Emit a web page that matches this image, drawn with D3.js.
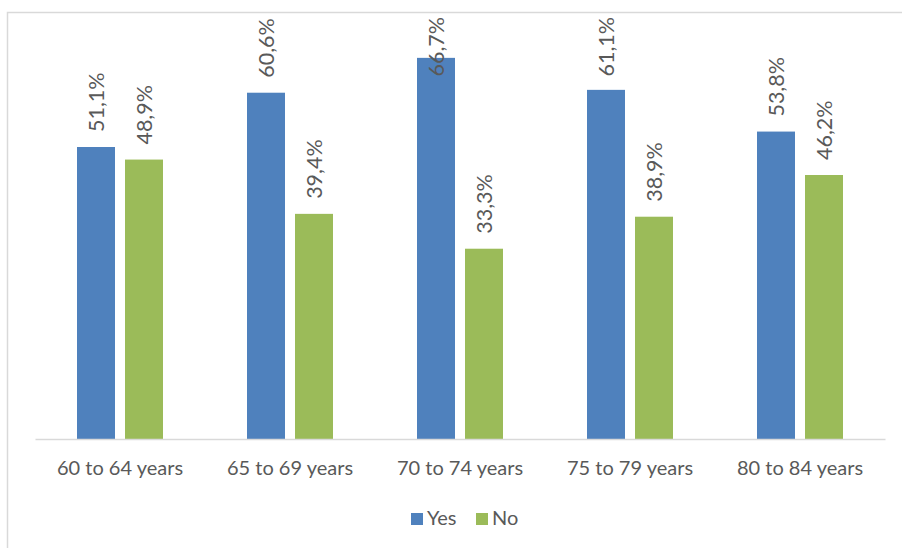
<!DOCTYPE html>
<html>
<head>
<meta charset="utf-8">
<script src="https://cdn.jsdelivr.net/npm/d3@7"></script>
<style>
  html, body { margin: 0; padding: 0; background: #fff; }
  svg { display: block; }
  text { font-family: Lato, "Open Sans", sans-serif; fill: #595959; }
</style>
</head>
<body>
<svg id="chart" width="902" height="548"></svg>
<script>
const categories = ["60 to 64 years", "65 to 69 years", "70 to 74 years", "75 to 79 years", "80 to 84 years"];
const seriesNames = ["Yes", "No"];
const yesValues = [51.1, 60.6, 66.7, 61.1, 53.8];
const noValues = [48.9, 39.4, 33.3, 38.9, 46.2];
const valueLabelsYes = ["51,1%", "60,6%", "66,7%", "61,1%", "53,8%"];
const valueLabelsNo = ["48,9%", "39,4%", "33,3%", "38,9%", "46,2%"];

const colors = { Yes: "#4F81BD", No: "#9BBB59" };
const svg = d3.select("#chart");

// chart border
svg.append("rect")
  .attr("x", 7.5).attr("y", 12.5)
  .attr("width", 1000).attr("height", 600)
  .attr("fill", "none").attr("stroke", "#D9D9D9").attr("stroke-width", 1.5);

const x0 = d3.scaleBand().domain(categories).range([35, 885]).paddingInner(0).paddingOuter(0);
const x1 = d3.scaleBand().domain(seriesNames).range([0, x0.bandwidth()]).paddingInner(10 / 48).paddingOuter(0.875);
const y = d3.scaleLinear().domain([0, 70]).range([439, 39]);

const data = categories.map((c, i) => ({
  cat: c,
  vals: [
    { s: "Yes", v: yesValues[i], lab: valueLabelsYes[i] },
    { s: "No", v: noValues[i], lab: valueLabelsNo[i] }
  ]
}));

const groups = svg.append("g").selectAll("g").data(data).join("g")
  .attr("transform", d => `translate(${x0(d.cat)},0)`);

groups.selectAll("rect").data(d => d.vals).join("rect")
  .attr("x", d => x1(d.s))
  .attr("y", d => y(d.v))
  .attr("width", x1.bandwidth())
  .attr("height", d => y(0) - y(d.v))
  .attr("fill", d => colors[d.s]);

// data labels (rotated), clamped inside the chart top
const minTop = 17;
groups.selectAll("text.val").data(d => d.vals).join("text")
  .attr("class", "val")
  .style("font-size", "21.5px")
  .attr("text-anchor", "start")
  .attr("dy", "0.36em")
  .text(d => d.lab)
  .each(function(d) {
    const len = this.getComputedTextLength();
    let bottom = y(d.v) - 15;
    if (bottom - len < minTop) bottom = minTop + len;
    const cx = x1(d.s) + x1.bandwidth() / 2;
    d3.select(this).attr("transform", `translate(${cx},${bottom}) rotate(-90)`);
  });

// axis
const xAxis = d3.axisBottom(x0).tickSize(0).tickPadding(0);
const axisG = svg.append("g").attr("transform", `translate(0,${y(0)})`).call(xAxis);
axisG.select(".domain").attr("stroke", "#D9D9D9").attr("stroke-width", 1.5);
axisG.selectAll(".tick text")
  .attr("y", 36).attr("dy", 0)
  .style("font-size", "20px").style("font-family", "Lato, 'Open Sans', sans-serif")
  .attr("fill", "#595959");

// legend
const legend = svg.append("g");
const legX = [411, 476];
seriesNames.forEach((s, i) => {
  legend.append("rect").attr("x", legX[i]).attr("y", 513).attr("width", 12).attr("height", 12).attr("fill", colors[s]);
  legend.append("text").attr("x", legX[i] + 16).attr("y", 525).style("font-size", "20px").text(s);
});
</script>
</body>
</html>
